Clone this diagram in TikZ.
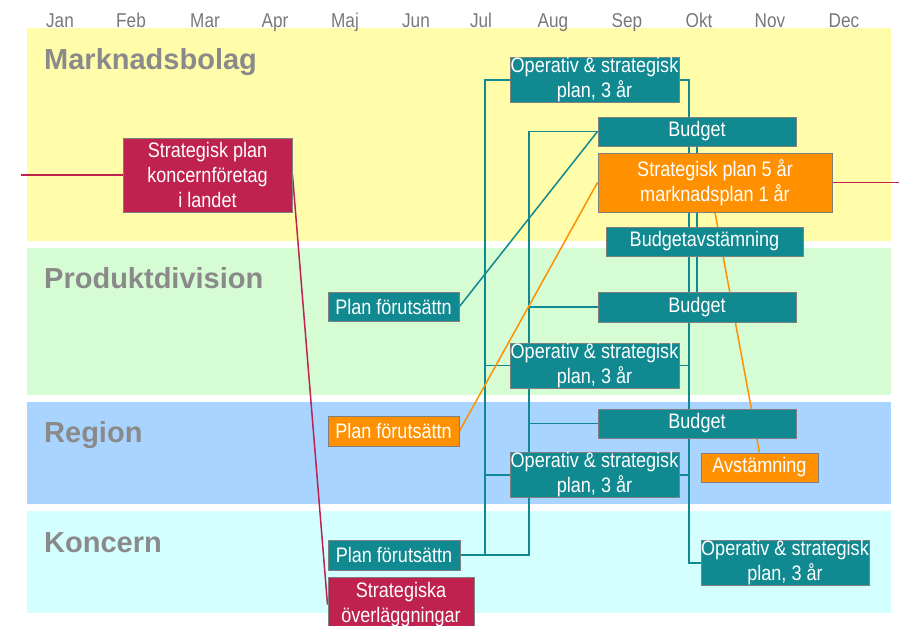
\documentclass[tikz,border=0pt]{standalone}
\usepackage{fontspec}
\setmainfont{Liberation Sans}
\newfontfamily\narrowfont{Liberation Sans}[FakeStretch=0.86]
\definecolor{tealbox}{RGB}{16,137,145}
\definecolor{orangebox}{RGB}{255,145,0}
\definecolor{crimsonbox}{RGB}{192,34,80}
\definecolor{edgegray}{RGB}{128,128,128}
\definecolor{monthgray}{RGB}{120,120,120}
\definecolor{levelgray}{RGB}{138,138,138}
\definecolor{yellowband}{RGB}{255,252,170}
\definecolor{greenband}{RGB}{214,252,212}
\definecolor{blueband}{RGB}{168,212,255}
\definecolor{cyanband}{RGB}{212,255,255}
\pgfdeclarelayer{bands}
\pgfdeclarelayer{wires}
\pgfsetlayers{bands,wires,main}
\tikzset{
  box/.style={draw=edgegray, line width=1pt, text=white, align=center, inner sep=0pt,
    font=\narrowfont\fontsize{21}{25}\selectfont},
  tbox/.style={box, fill=tealbox},
  obox/.style={box, fill=orangebox},
  rbox/.style={box, fill=crimsonbox},
  link/.style={draw=tealbox, line width=1.5pt},
  olink/.style={draw=orangebox, line width=1.5pt},
  rlink/.style={draw=crimsonbox, line width=1.5pt},
  month/.style={text=monthgray, anchor=base, inner sep=0pt, font=\narrowfont\fontsize{20}{24}\selectfont},
  level/.style={text=levelgray, anchor=base west, inner sep=0pt, font=\bfseries\fontsize{29}{32}\selectfont}
}
\begin{document}
\begin{tikzpicture}[x=1pt,y=-1pt]
    \useasboundingbox (0,0) rectangle (903,625);
    \clip (0,0) rectangle (903,625);
    \begin{pgfonlayer}{bands}
    \fill[yellowband] (27,28) rectangle (891,241);
    \fill[greenband] (27,248) rectangle (891,395);
    \fill[blueband] (27,402) rectangle (891,504);
    \fill[cyanband] (27,511) rectangle (891,613);
    \end{pgfonlayer}
    \foreach \m/\x in {Jan/60,Feb/131,Mar/205,Apr/275,Maj/345,Jun/416,Jul/481,Aug/553,Sep/627,Okt/699,Nov/770,Dec/844}
        \node[month] (month-\m) at (\x,27){\m};
    \node[level] (marknad) at (44,69){Marknadsbolag};
    \node[level] (produkt) at (44,288){Produktdivision};
    \node[level] (region) at (44,442){Region};
    \node[level] (koncern) at (44,552){Koncern};
    % boxes
    \node[rbox, minimum width=169pt, minimum height=74pt] (spL) at (207.5,175){Strategisk plan\\koncernföretag\\i landet};
    \node[tbox, minimum width=169pt, minimum height=44pt] (opM) at (594.5,80){Operativ \& strategisk\\plan, 3 år};
    \node[tbox, minimum width=198pt, minimum height=29pt] (budM) at (697,131.5){Budget};
    \node[obox, minimum width=234pt, minimum height=59pt] (spM) at (715,182.5){Strategisk plan 5 år\\marknadsplan 1 år};
    \node[tbox, minimum width=197pt, minimum height=29pt] (bavM) at (704.5,241.5){Budgetavstämning};
    \node[tbox, minimum width=131pt, minimum height=29pt] (pfP) at (393.5,306.5){Plan förutsättn};
    \node[tbox, minimum width=198pt, minimum height=30pt] (budP) at (697,307){Budget};
    \node[tbox, minimum width=169pt, minimum height=45pt] (opP) at (594.5,365.5){Operativ \& strategisk\\plan, 3 år};
    \node[obox, minimum width=131pt, minimum height=30pt] (pfR) at (393.5,431){Plan förutsättn};
    \node[tbox, minimum width=198pt, minimum height=29pt] (budR) at (697,423.5){Budget};
    \node[tbox, minimum width=169pt, minimum height=44pt] (opR) at (594.5,475){Operativ \& strategisk\\plan, 3 år};
    \node[obox, minimum width=117pt, minimum height=29pt] (avR) at (759.5,467.5){Avstämning};
    \node[tbox, minimum width=132pt, minimum height=30pt] (pfK) at (394,555){Plan förutsättn};
    \node[rbox, minimum width=146pt, minimum height=55pt] (strK) at (401,604.5){Strategiska\\överläggningar};
    \node[tbox, minimum width=168pt, minimum height=44pt] (opK) at (785,563){Operativ \& strategisk\\plan, 3 år};
    \coordinate (busA) at (485,0);
    \coordinate (busB) at (529,0);
    \coordinate (busC) at (689,0);
    \coordinate (leftend) at (21,175);
    \coordinate (rightend) at (899,182.5);
    \begin{pgfonlayer}{wires}
    \draw[link] (opM.west) -| (pfK.east -| busA) -- (pfK.east);
    \draw[link] (opP.west) -- (opP.west -| busA);
    \draw[link] (opR.west) -- (opR.west -| busA);
    \draw[link] (budM.west) -| (pfK.east -| busB) -- (pfK.east);
    \draw[link] (budP.west) -- (budP.west -| busB);
    \draw[link] (budR.west) -- (budR.west -| busB);
    \draw[link] (opM.east) -| (opK.west -| busC) -- (opK.west);
    \draw[link] (opP.east) -- (opP.east -| busC);
    \draw[link] (opR.east) -- (opR.east -| busC);
    \draw[link] (budM.south) -- (budP.north);
    \draw[link] (pfP.east) -- (budM.west);
    \draw[olink] (pfR.east) -- (spM.west);
    \draw[olink] (spM.south) -- (avR.north);
    \draw[rlink] (leftend) -- (spL.west);
    \draw[rlink] (spL.east) -- (strK.west);
    \draw[rlink] (spM.east) -- (rightend);
    \end{pgfonlayer}
\end{tikzpicture}
\end{document}
